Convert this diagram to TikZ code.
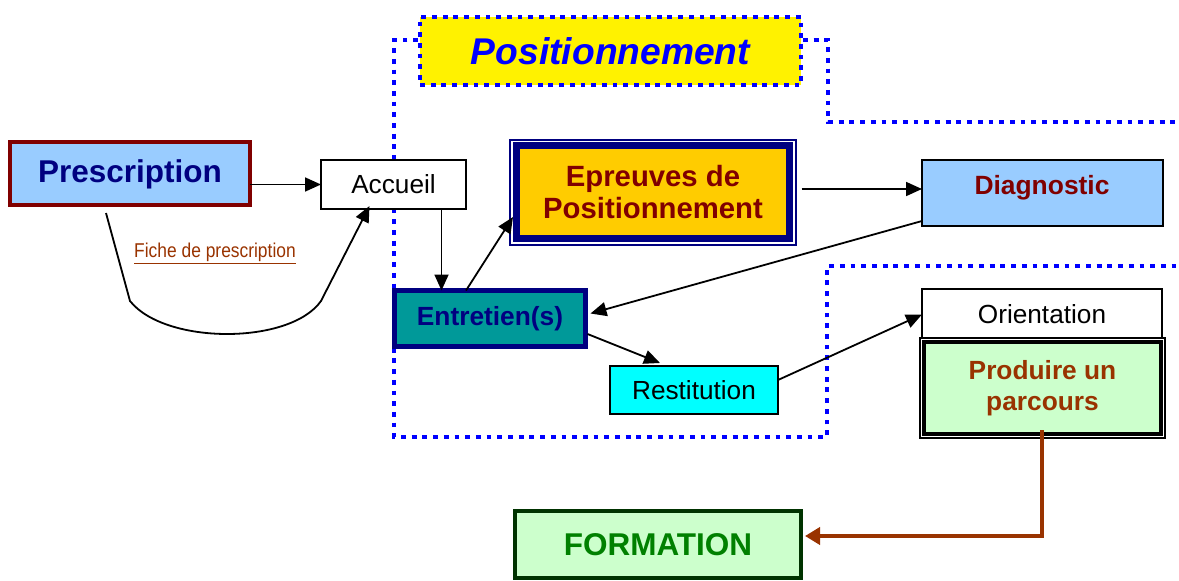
\documentclass[tikz,border=0pt]{standalone}
\usepackage{fontspec}
\setmainfont{Liberation Sans}
\newfontfamily\narrowfont[FakeStretch=0.87]{Liberation Sans}
\usetikzlibrary{arrows.meta,calc}
\definecolor{dblue}{HTML}{0000FF}
\definecolor{navy}{HTML}{000080}
\definecolor{dred}{HTML}{800000}
\definecolor{lblue}{HTML}{99CCFF}
\definecolor{gold}{HTML}{FFCC00}
\definecolor{tealc}{HTML}{009999}
\definecolor{cyanc}{HTML}{00FFFF}
\definecolor{lgreen}{HTML}{CCFFCC}
\definecolor{dgreen}{HTML}{003300}
\definecolor{greenc}{HTML}{008000}
\definecolor{brownc}{HTML}{993300}
\begin{document}
\begin{tikzpicture}[x=1pt,y=-1pt,
  arr/.style={line width=1.8pt, -{Triangle[length=16pt,width=14pt]}},
  dotb/.style={draw=dblue, line width=4.8pt, dash pattern=on 4.8pt off 5.9pt},
  box/.style={inner sep=0pt, outer sep=0pt, align=center},
  bigfont/.style={font=\fontsize{26.3}{31}\selectfont\bfseries},
  plainfont/.style={font=\fontsize{26.2}{30}\selectfont},
]
\useasboundingbox (0,0) rectangle (1179,581);
% dotted frames
\draw[dotb] (418,40) -- (394,40) -- (394,437) -- (827,437) -- (827,266) -- (1179,266);
\draw[dotb] (803,40) -- (828,40) -- (828,122) -- (1179,122);
\node[box, dotb, fill=yellow, minimum width=381pt, minimum height=68pt,
  font=\fontsize{37.2}{40}\selectfont\bfseries\itshape, text=dblue] (pos) at (610.5,51) {Positionnement};

% boxes
\node[box, draw=dred, line width=4pt, fill=lblue, minimum width=240pt, minimum height=63pt,
  font=\fontsize{31.5}{34}\selectfont\bfseries, text=navy, text height=22pt, text depth=4pt] (presc) at (130,173.5) {Prescription};
\node[box, draw, line width=1.5pt, fill=white, minimum width=145pt, minimum height=49pt,
  plainfont] (acc) at (393.5,184.5) {Accueil};
\node[box, draw=navy, line width=2pt, fill=white, minimum width=286pt, minimum height=105pt] (epro) at (653,192) {};
\node[box, draw=navy, line width=7.7pt, fill=gold, minimum width=273pt, minimum height=93pt,
  font=\fontsize{29.3}{32}\selectfont\bfseries, text=dred] (epr) at (epro.center) {Epreuves de\\Positionnement};
\node[box, draw=navy, line width=5pt, fill=tealc, minimum width=191pt, minimum height=56pt,
  bigfont, text=navy] (ent) at (490,318.5) {Entretien(s)};
\node[box, draw, line width=1.5pt, fill=cyanc, minimum width=168pt, minimum height=48pt,
  plainfont] (res) at (694,390) {Restitution};
\node[box, draw, line width=1.5pt, fill=lblue, minimum width=241pt, minimum height=66pt] (diag) at (1042.5,193) {};
\node[box, font=\fontsize{26.4}{30}\selectfont\bfseries, text=dred] (diagt) at (1042,188) {Diagnostic};
\node[box, draw, line width=1.5pt, fill=white, minimum width=240pt, minimum height=51pt,
  plainfont] (ori) at (1042,314.5) {Orientation};
\node[box, draw, line width=1.8pt, fill=white, minimum width=245.4pt, minimum height=100.4pt] (prodo) at (1042.5,388) {};
\node[box, draw, line width=3.7pt, fill=lgreen, minimum width=237.6pt, minimum height=91.8pt,
  bigfont, text=brownc] (prod) at (prodo.center) {Produire un\\parcours};
\node[box, draw=dgreen, line width=4.5pt, fill=lgreen, minimum width=286pt, minimum height=67pt,
  font=\fontsize{31.5}{34}\selectfont\bfseries, text=greenc] (form) at (658,544.5) {FORMATION};

% label
\node[box, font=\narrowfont\fontsize{20}{22}\selectfont, text=brownc] (fiche) at (215,253) {\underline{Fiche de prescription}};

% connectors
\draw[arr] (presc.east |- acc.west) -- (acc.west);
\coordinate (c1) at (130,301);
\coordinate (c2) at (321,301);
\draw[arr] ([xshift=-24pt,yshift=-8pt]presc.south) -- (c1)
  .. controls (165,345) and (290,345) .. (c2) -- ([xshift=-24pt,yshift=3pt]acc.south);
\draw[arr] ([xshift=48pt]acc.south) -- ([xshift=48pt]acc.south |- ent.north);
\draw[arr] ([xshift=-24pt]ent.north) -- ([xshift=-3.5pt,yshift=-25pt]epr.west);
\draw[arr] ([xshift=12pt,yshift=3pt]epr.east) -- ([yshift=4pt]diag.west);
\draw[arr] ([yshift=5pt]diag.south west) -- ([xshift=5pt,yshift=5pt]ent.east);
\draw[arr] ([xshift=2pt,yshift=-15.5pt]ent.east) -- ([xshift=-34pt,yshift=3pt]res.north);
\draw[arr] ([yshift=10pt]res.east) -- (ori.west);
\coordinate (by) at (0,536);
\coordinate (pb) at (1042,430);
\draw[brownc, line width=4pt, -{Triangle[length=15pt,width=17pt]}]
  (pb) -- (pb |- by) -- ([xshift=4pt]form.east |- by);
\end{tikzpicture}
\end{document}
